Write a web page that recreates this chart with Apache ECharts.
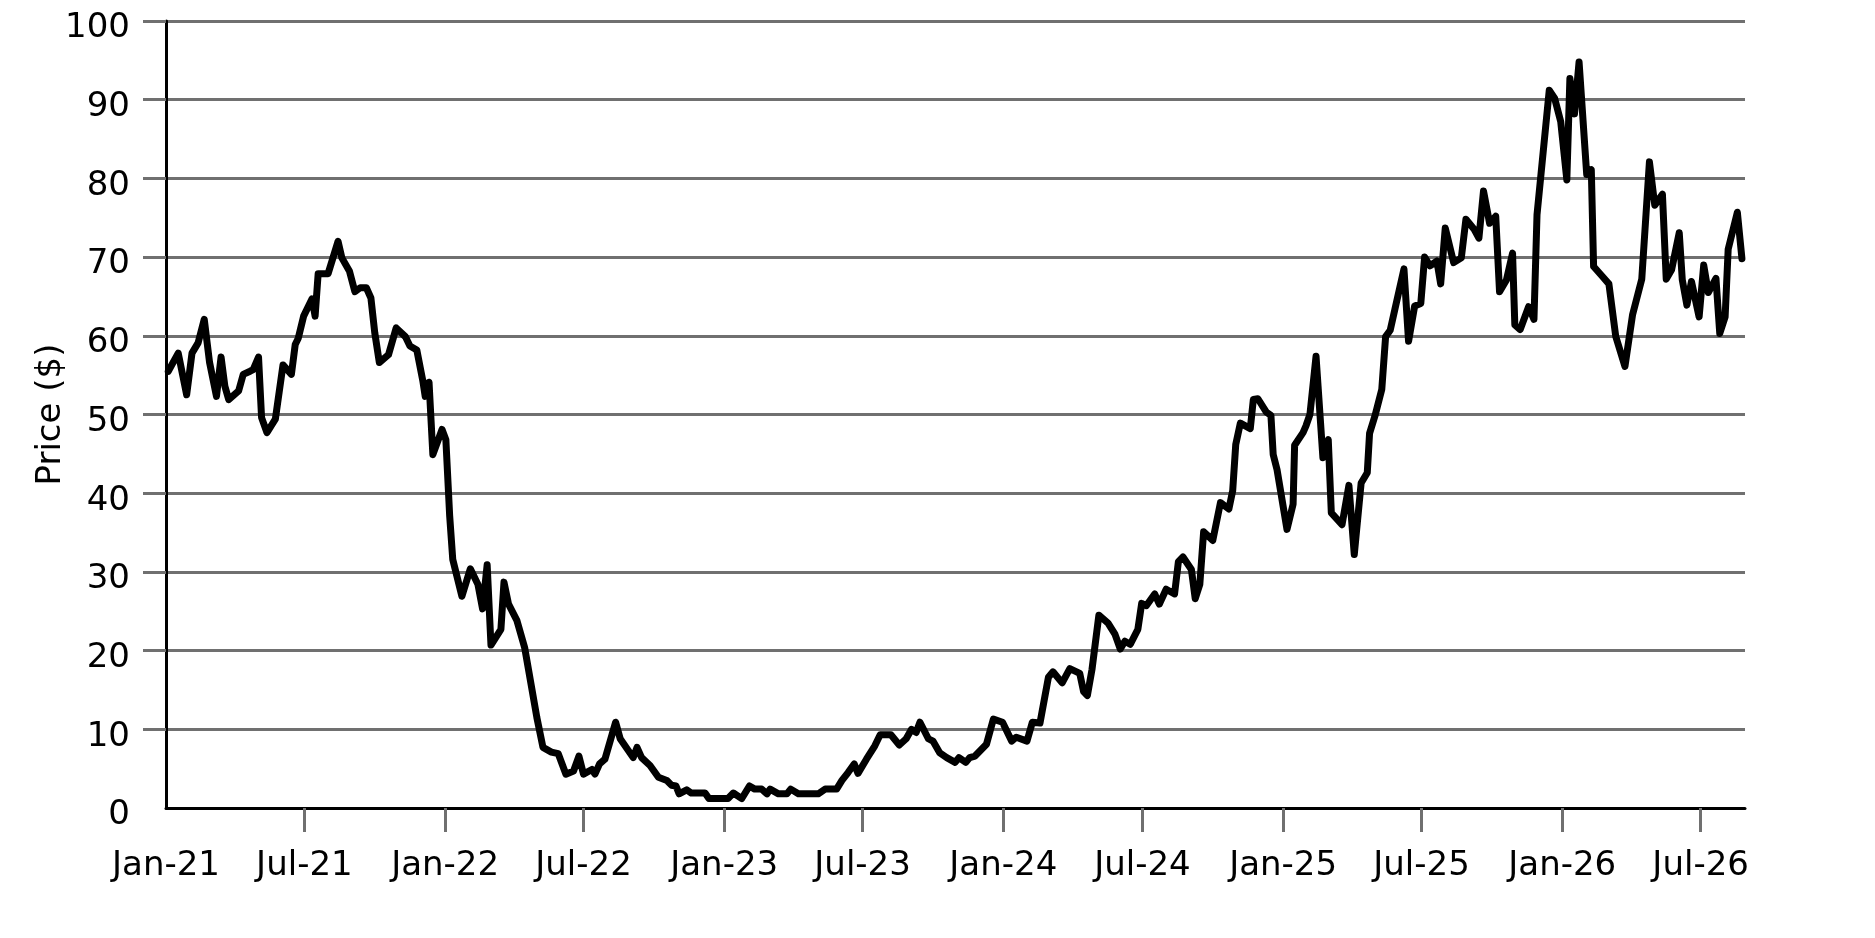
<!DOCTYPE html>
<html>
<head>
<meta charset="utf-8">
<script src="https://cdn.jsdelivr.net/npm/echarts@6/dist/echarts.min.js"></script>
<style>
html,body{margin:0;padding:0;background:#fff;}
#chart{width:1875px;height:938px;}
</style>
</head>
<body>
<div id="chart"></div>
<script>
// x positions: days after 2021-01-01
const dayOffsets = [
  3,16,27,34,42,50,57,66,72,77,82,95,101,110,114,121,125,132,143,153,164,169,173,180,191,195,199,212,225,230,240,247,254,262,268,273,279,291,301,313,319,328,336,339,344,349,361,366,
  371,375,387,398,408,414,420,425,438,442,448,459,469,485,493,504,513,523,533,540,546,557,561,567,574,588,594,611,616,622,633,644,655,661,667,671,681,687,705,710,735,742,
  753,763,770,779,786,790,801,812,817,827,853,862,877,884,892,900,905,916,927,934,948,959,968,975,981,986,997,1003,1012,1021,1032,1037,1046,1051,1058,1073,1082,1094,1106,1112,1126,1133,1143,1154,
  1160,1172,1182,1195,1200,1205,1211,1220,1232,1241,1248,1254,1261,1271,1276,1282,1293,1299,1308,1319,1324,1330,1341,1346,1352,1357,1369,1379,1390,1395,1399,1405,1418,1422,1428,1439,1445,1448,1453,1466,1474,1476,1487,1491,1496,
  1504,1513,1520,1524,1538,1547,1554,1563,1571,1574,1581,1590,1595,1601,1607,1619,1625,1633,1641,1646,1653,1662,1667,1673,1684,1694,1700,1711,1717,1723,1731,1739,1744,1753,1761,1764,1771,1782,1789,1793,1809,1816,1824,1832,1836,1842,1848,1858,1864,1867,1878,1887,1896,1908,1918,1930,1940,1947,1957,1962,1969,1979,1983,1989,1995,2005,2011,2017,2027,2032,2039,2043,2055,2061
];
const prices = [
  55.5,57.8,52.5,57.8,59.1,62.1,56.6,52.3,57.3,53.6,51.9,53.0,55.1,55.5,55.7,57.3,49.6,47.7,49.4,56.3,55.1,58.9,59.7,62.5,64.7,62.5,67.9,67.9,72.0,69.9,68.2,65.6,66.1,66.1,64.8,60.4,56.6,57.6,61.0,59.9,58.7,58.2,54.2,52.3,54.1,44.9,48.1,46.8,
  37.1,31.6,26.9,30.4,28.4,25.3,30.9,20.7,22.7,28.7,25.9,23.8,20.4,11.5,7.7,7.1,6.9,4.3,4.7,6.6,4.3,4.9,4.3,5.6,6.2,10.9,8.8,6.4,7.7,6.4,5.4,3.9,3.5,2.9,2.8,1.8,2.3,1.9,1.9,1.2,1.2,1.9,
  1.2,2.8,2.4,2.4,1.8,2.4,1.8,1.8,2.4,1.8,1.8,2.4,2.4,3.5,4.5,5.6,4.4,6.2,7.9,9.3,9.3,8.0,8.8,10.0,9.6,10.9,8.8,8.5,7.0,6.4,5.8,6.4,5.8,6.4,6.6,8.1,11.3,10.9,8.5,9.0,8.5,10.9,10.8,16.6,
  17.3,15.9,17.7,17.1,14.8,14.3,17.6,24.5,23.5,22.1,20.2,21.2,20.8,22.7,26.0,25.7,27.2,25.9,27.8,27.2,31.3,31.9,30.3,26.6,28.4,35.1,34.0,38.8,38.0,40.3,46.2,48.9,48.2,51.9,52.0,50.3,49.9,44.9,43.0,35.4,38.6,46.1,47.7,48.6,50.0,
  57.4,44.5,46.8,37.5,36.0,41.0,32.2,41.3,42.6,47.6,49.8,53.2,59.9,60.7,63.3,68.5,59.3,63.8,64.1,70.0,68.9,69.5,66.6,73.7,69.3,69.9,74.8,73.5,72.4,78.4,74.3,75.2,65.6,67.1,70.5,61.4,60.8,63.7,62.1,75.4,91.2,90.2,87.2,79.8,92.7,88.2,94.8,80.5,81.1,68.8,67.6,66.6,59.9,56.1,62.7,67.2,82.1,76.6,78.0,67.2,68.4,73.1,67.1,63.9,66.9,62.4,69.0,65.5,67.3,60.3,62.4,71.0,75.7,69.8
];
const tickDates = ['2021-01-01','2021-07-01','2022-01-01','2022-07-01','2023-01-01','2023-07-01','2024-01-01','2024-07-01','2025-01-01','2025-07-01','2026-01-01','2026-07-01'];
const tickLabels = ['Jan-21','Jul-21','Jan-22','Jul-22','Jan-23','Jul-23','Jan-24','Jul-24','Jan-25','Jul-25','Jan-26','Jul-26'];
const yTicks = [0,10,20,30,40,50,60,70,80,90,100];
const startDate = '2021-01-01';
const axisEndDate = '2026-08-28';

const DAY = 86400000;
const toTime = s => Date.parse(s + 'T00:00:00Z');
const START = toTime(startDate);
const toDay = s => Math.round((toTime(s) - START) / DAY);
const tickDays = tickDates.map(toDay);
const seriesData = dayOffsets.map((d, i) => [d, prices[i]]);

const FONT = 'DejaVu Sans';
const GRAY = '#707070';

const chart = echarts.init(document.getElementById('chart'), null, {renderer: 'canvas'});
chart.setOption({
  animation: false,
  backgroundColor: '#ffffff',
  grid: {left: 166, right: 130, top: 21, bottom: 130, containLabel: false},
  xAxis: {
    type: 'value',
    min: 0,
    max: toDay(axisEndDate),
    axisLine: {show: true, onZero: false, lineStyle: {color: '#000', width: 3}},
    axisTick: {show: true, length: 24, customValues: tickDays.slice(1), lineStyle: {color: GRAY, width: 3}},
    axisLabel: {
      customValues: tickDays,
      showMinLabel: true, showMaxLabel: true,
      margin: 41, fontSize: 34, fontFamily: FONT, color: '#000',
      formatter: v => { const i = tickDays.indexOf(v); return i >= 0 ? tickLabels[i] : ''; }
    },
    splitLine: {show: false}
  },
  yAxis: {
    type: 'value',
    min: 0, max: 100, interval: 10,
    name: 'Price ($)',
    nameLocation: 'middle',
    nameGap: 98,
    nameMoveOverlap: false,
    nameTextStyle: {fontSize: 34, fontFamily: FONT, color: '#000'},
    axisLine: {show: true, lineStyle: {color: '#000', width: 3}},
    axisTick: {show: true, length: 23, customValues: yTicks.slice(1), lineStyle: {color: GRAY, width: 3}},
    axisLabel: {
      customValues: yTicks,
      margin: 36, fontSize: 34, fontFamily: FONT, color: '#000',
      verticalAlign: 'top', lineHeight: 15
    },
    splitLine: {show: true, lineStyle: {color: GRAY, width: 3}}
  },
  series: [{
    type: 'line',
    data: seriesData,
    showSymbol: false,
    symbol: 'none',
    silent: true,
    lineStyle: {color: '#000', width: 7, cap: 'round', join: 'round'}
  }]
});
</script>
</body>
</html>
